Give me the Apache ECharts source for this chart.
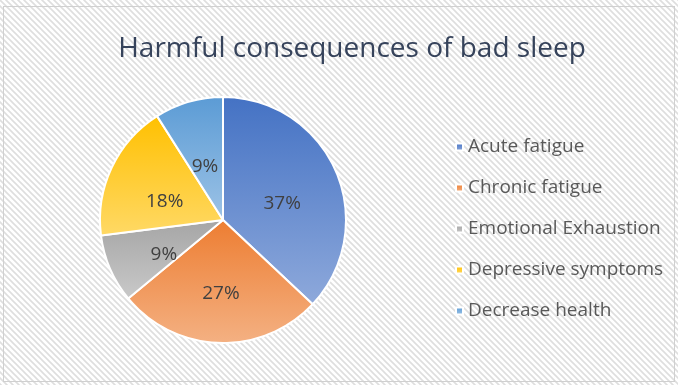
<!DOCTYPE html>
<html>
<head>
<meta charset="utf-8">
<script src="https://cdn.jsdelivr.net/npm/echarts@6/dist/echarts.min.js"></script>
<style>
html,body{margin:0;padding:0;background:#fff;}
#frame{position:absolute;left:3px;top:6px;width:672px;height:376px;border:1px solid #d0d0d0;box-sizing:border-box;}
#c{position:absolute;left:0;top:0;width:678px;height:385px;}
</style>
</head>
<body>
<div id="c"></div>
<div id="frame"></div>
<script>
const titleText = 'Harmful consequences of bad sleep';
const categories = ['Acute fatigue', 'Chronic fatigue', 'Emotional Exhaustion', 'Depressive symptoms', 'Decrease health'];
const values = [37, 27, 9, 18, 9];
const baseColors = ['#4472C4', '#ED7D31', '#A5A5A5', '#FFC000', '#5B9BD5'];
const lightColors = ['#8EA9DB', '#F4B183', '#C9C9C9', '#FFD966', '#9DC3E6'];

// striped background pattern
const tile = document.createElement('canvas');
tile.width = 6; tile.height = 6;
const tc = tile.getContext('2d');
tc.fillStyle = '#ffffff';
tc.fillRect(0, 0, 6, 6);
tc.strokeStyle = '#dedede';
tc.lineWidth = 1.6;
tc.beginPath();
tc.moveTo(-1, -1); tc.lineTo(7, 7);
tc.moveTo(-7, -1); tc.lineTo(1, 7);
tc.moveTo(5, -1); tc.lineTo(13, 7);
tc.stroke();

const chart = echarts.init(document.getElementById('c'));
chart.setOption({
  backgroundColor: { image: tile, repeat: 'repeat' },
  animation: false,
  title: {
    text: titleText,
    left: 347,
    textAlign: 'center',
    top: 30,
    textStyle: { fontFamily: 'Open Sans', fontWeight: 'normal', fontSize: 28, color: '#36435B' }
  },
  legend: {
    orient: 'vertical',
    left: 450,
    top: 131,
    icon: 'rect',
    itemWidth: 7,
    itemHeight: 7,
    itemGap: 19,
    data: categories,
    textStyle: { fontFamily: 'Open Sans', fontSize: 19, color: '#595959', lineHeight: 22 }
  },
  series: [{
    type: 'pie',
    center: [223, 220],
    radius: ['0%', 123],
    startAngle: 90,
    clockwise: true,
    label: {
      position: 'inside',
      formatter: '{c}%',
      fontFamily: 'Open Sans',
      fontSize: 19,
      color: '#404040'
    },
    labelLayout: { dy: 9 },
    labelLine: { show: false },
    itemStyle: { borderColor: '#ffffff', borderWidth: 2 },
    emphasis: { disabled: true },
    data: categories.map((n, i) => ({
      name: n,
      value: values[i],
      itemStyle: {
        color: new echarts.graphic.LinearGradient(0, 0, 0, 1, [
          { offset: 0, color: baseColors[i] },
          { offset: 1, color: lightColors[i] }
        ])
      }
    }))
  }]
});
</script>
</body>
</html>
